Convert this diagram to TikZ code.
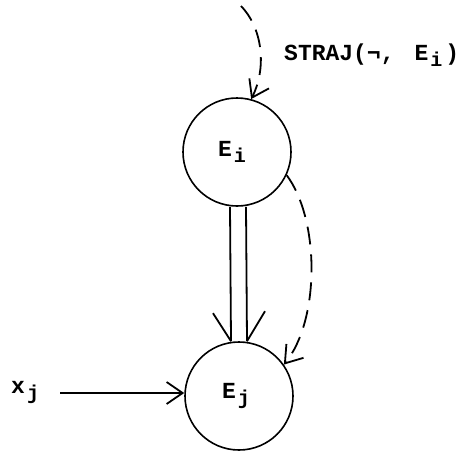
\documentclass[tikz,border=0pt]{standalone}
\usepackage{fontspec}
\setmonofont{Liberation Mono}
\usetikzlibrary{arrows.meta,calc}
\newcommand{\lowsub}[1]{\kern2pt\raisebox{-6pt}{\fontsize{20}{24}\selectfont #1}}
\begin{document}
\begin{tikzpicture}[x=1pt,y=-1pt,
  state/.style={circle, draw, line width=1.6pt, minimum size=108pt, inner sep=0pt, font=\ttfamily\bfseries\fontsize{23}{27}\selectfont},
  lbl/.style={font=\ttfamily\bfseries\fontsize{23}{27}\selectfont, inner sep=0pt},
  tip/.style={-{Straight Barb[length=16pt,width=22pt,line width=1.8pt]}},
  edge/.style={line width=1.8pt},
  dashline/.style={line width=1.8pt, dash pattern=on 18pt off 10pt}
]
\useasboundingbox (0,0) rectangle (473,450);
\node[state] (Ei) at (237,152) {E\lowsub{i}\kern10pt};
\node[state] (Ej) at (239,396) {E\lowsub{j}\kern6pt};
\node[lbl, anchor=base west] (xj) at (11,393) {x\lowsub{j}};
\node[lbl, anchor=base west] (straj) at (284,60) {STRAJ(¬,\hspace{20pt}E\lowsub{i}\kern3pt)};
\coordinate (s) at (241,6);
\coordinate (xs) at (60,393);
% top dashed arrow
\draw[dashline, tip] (s) .. controls (264,30) and (266,70) .. (Ei.75);
% right dashed arrow
\draw[dashline, tip] (Ei.-25) .. controls (320,220) and (320,320) .. (Ej.35);
% double connector
\draw[edge] ($(Ei.south)+(-7,0)$) -- ($(Ej.north)+(-8,0)$);
\draw[edge] ($(Ei.south)+(9,0)$) -- ($(Ej.north)+(8,0)$);
\draw[edge] ($(Ej.north)+(-26,-28)$) -- ($(Ej.north)+(-8,0)$);
\draw[edge] ($(Ej.north)+(26,-30)$) -- ($(Ej.north)+(8,0)$);
% x_j arrow
\draw[edge, tip] (xs) -- (xs -| Ej.west);
\end{tikzpicture}
\end{document}
